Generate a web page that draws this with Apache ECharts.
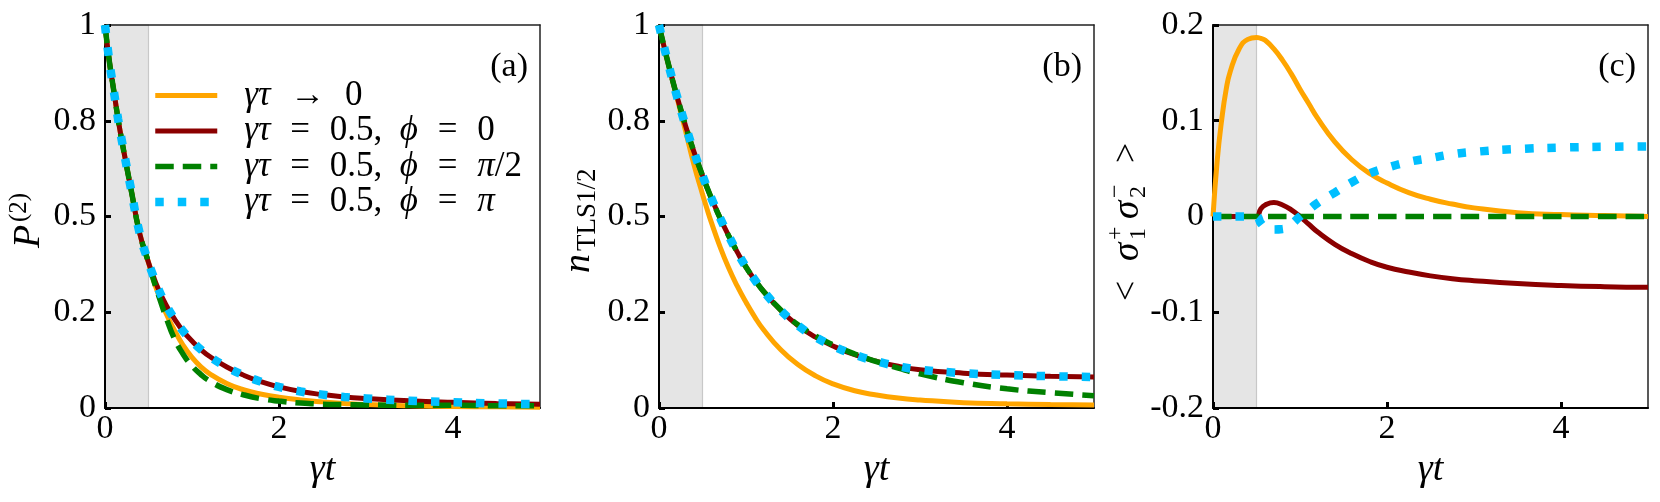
<!DOCTYPE html>
<html>
<head>
<meta charset="utf-8">
<script src="https://cdn.jsdelivr.net/npm/echarts@6/dist/echarts.min.js"></script>
<style>
html,body{margin:0;padding:0;background:#fff;}
#chart{width:1660px;height:502px;}
</style>
</head>
<body>
<div id="chart"></div>
<script>
// ---------------- data ----------------
const seriesNames = ['γτ → 0', 'γτ = 0.5,  ϕ = 0', 'γτ = 0.5,  ϕ = π/2', 'γτ = 0.5,  ϕ = π'];
const panelLabels = ['(a)', '(b)', '(c)'];
const xTicks = [0, 2, 4];
const xTickLabels = ['0', '2', '4'];
const yTicksAB = [0, 0.25, 0.5, 0.75, 1];
const yTickLabelsAB = ['0', '0.2', '0.5', '0.8', '1'];
const yTicksC = [-0.2, -0.1, 0, 0.1, 0.2];
const yTickLabelsC = ['-0.2', '-0.1', '0', '0.1', '0.2'];
const shadeRange = [0, 0.5];

const tGrid = [0, 0.05, 0.1, 0.15, 0.2, 0.3, 0.4, 0.5, 0.55, 0.6, 0.7, 0.8, 0.9, 1.0, 1.1, 1.2, 1.4, 1.6, 1.8, 2.0, 2.25, 2.5, 2.75, 3.0, 3.5, 4.0, 4.5, 5.0];

// panel (a) P^(2)
const aOrange = [1, 0.905, 0.83, 0.755, 0.69, 0.57, 0.455, 0.38, 0.34, 0.305, 0.248, 0.202, 0.163, 0.132, 0.108, 0.09, 0.064, 0.047, 0.036, 0.028, 0.021, 0.016, 0.012, 0.009, 0.006, 0.004, 0.003, 0.002];
const aRed    = [1, 0.905, 0.83, 0.755, 0.69, 0.57, 0.455, 0.38, 0.348, 0.318, 0.27, 0.232, 0.2, 0.175, 0.153, 0.135, 0.107, 0.085, 0.068, 0.055, 0.043, 0.035, 0.029, 0.025, 0.019, 0.015, 0.012, 0.01];
const aGreen  = [1, 0.905, 0.83, 0.755, 0.69, 0.57, 0.455, 0.38, 0.34, 0.305, 0.238, 0.18, 0.14, 0.11, 0.088, 0.071, 0.048, 0.034, 0.024, 0.018, 0.013, 0.01, 0.009, 0.008, 0.007, 0.007, 0.006, 0.006];
const aBlue   = [1, 0.905, 0.83, 0.755, 0.69, 0.57, 0.455, 0.38, 0.348, 0.318, 0.27, 0.232, 0.2, 0.175, 0.153, 0.135, 0.107, 0.085, 0.068, 0.055, 0.043, 0.035, 0.029, 0.025, 0.019, 0.015, 0.012, 0.01];

// panel (b) n_TLS1/2
const bOrange = [1, 0.951, 0.905, 0.86, 0.816, 0.728, 0.637, 0.558, 0.521, 0.486, 0.422, 0.366, 0.318, 0.276, 0.238, 0.205, 0.152, 0.113, 0.084, 0.063, 0.045, 0.034, 0.026, 0.021, 0.014, 0.011, 0.009, 0.008];
const bRed    = [1, 0.951, 0.905, 0.861, 0.819, 0.741, 0.67, 0.607, 0.577, 0.549, 0.497, 0.45, 0.407, 0.368, 0.335, 0.305, 0.255, 0.215, 0.185, 0.162, 0.139, 0.122, 0.109, 0.1, 0.091, 0.086, 0.083, 0.081];
const bGreen  = [1, 0.951, 0.905, 0.861, 0.819, 0.741, 0.67, 0.607, 0.577, 0.549, 0.497, 0.45, 0.407, 0.368, 0.335, 0.305, 0.256, 0.217, 0.188, 0.165, 0.141, 0.121, 0.104, 0.089, 0.066, 0.05, 0.04, 0.032];
const bBlue   = [1, 0.951, 0.905, 0.861, 0.819, 0.741, 0.67, 0.607, 0.577, 0.549, 0.497, 0.45, 0.407, 0.368, 0.335, 0.305, 0.255, 0.215, 0.185, 0.162, 0.139, 0.122, 0.109, 0.1, 0.091, 0.086, 0.083, 0.081];

// panel (c) <σ1+ σ2->
const cOrange = [0, 0.06, 0.101, 0.132, 0.152, 0.175, 0.185, 0.187, 0.186, 0.184, 0.175, 0.163, 0.149, 0.133, 0.118, 0.103, 0.078, 0.059, 0.045, 0.035, 0.025, 0.018, 0.013, 0.009, 0.004, 0.002, 0.001, 0];
const cRed    = [0, 0, 0, 0, 0, 0, 0, 0, 0.008, 0.012, 0.0145, 0.012, 0.007, 0, -0.008, -0.016, -0.029, -0.039, -0.047, -0.053, -0.058, -0.062, -0.065, -0.067, -0.07, -0.072, -0.0733, -0.074];
const cGreen  = [0, 0, 0, 0, 0, 0, 0, 0, 0, 0, 0, 0, 0, 0, 0, 0, 0, 0, 0, 0, 0, 0, 0, 0, 0, 0, 0, 0];
const cBlue   = [0, 0, 0, 0, 0, 0, 0, 0, -0.007, -0.011, -0.0135, -0.013, -0.008, 0, 0.007, 0.014, 0.025, 0.036, 0.045, 0.051, 0.057, 0.061, 0.065, 0.0675, 0.0705, 0.072, 0.0728, 0.0732];

// ---------------- styling ----------------
const FONT = 'Liberation Serif';
const colors = ['#FFA500', '#8B0000', '#008000', '#00BFFF'];
const lineStyles = [
  { color: colors[0], width: 5, type: 'solid' },
  { color: colors[1], width: 5, type: 'solid' },
  { color: colors[2], width: 5.5, type: [18.5, 9], cap: 'butt' },
  { color: colors[3], width: 8.5, type: [8.5, 14], cap: 'butt' }
];
const grids = [
  { left: 105, top: 25, width: 435, height: 383 },
  { left: 659, top: 25, width: 435, height: 383 },
  { left: 1213, top: 25, width: 435, height: 383 }
];

function tickFmt(ticks, labels) {
  return function (v) {
    for (let i = 0; i < ticks.length; i++) if (Math.abs(ticks[i] - v) < 1e-9) return labels[i];
    return '';
  };
}

const xAxes = [], yAxes = [], series = [];
const panelData = [
  [aOrange, aRed, aGreen, aBlue],
  [bOrange, bRed, bGreen, bBlue],
  [cOrange, cRed, cGreen, cBlue]
];
for (let g = 0; g < 3; g++) {
  xAxes.push({
    type: 'value', gridIndex: g, min: 0, max: 5, interval: 2, z: 3,
    name: 'γt', nameLocation: 'middle', nameGap: 40,
    nameTextStyle: { fontFamily: FONT, fontSize: 38, fontStyle: 'italic', color: '#000' },
    axisLine: { show: true, onZero: false, lineStyle: { color: '#000', width: 2 } },
    axisTick: { show: true, inside: true, length: 6, lineStyle: { color: '#000', width: 3 } },
    axisLabel: { show: true, margin: 4, showMaxLabel: false, fontFamily: FONT, fontSize: 34, color: '#000', formatter: tickFmt(xTicks, xTickLabels) },
    splitLine: { show: false }
  });
  xAxes.push({
    type: 'value', gridIndex: g, min: 0, max: 5, position: 'top', z: 3,
    axisLine: { show: true, onZero: false, lineStyle: { color: '#222', width: 1.5 } },
    axisTick: { show: false }, axisLabel: { show: false }, splitLine: { show: false }
  });
  const isC = g === 2;
  yAxes.push({
    type: 'value', gridIndex: g, z: 3,
    min: isC ? -0.2 : 0, max: isC ? 0.2 : 1, interval: isC ? 0.1 : 0.25,
    axisLine: { show: true, onZero: false, lineStyle: { color: '#000', width: 2 } },
    axisTick: { show: true, inside: true, length: 6, lineStyle: { color: '#000', width: 3 } },
    axisLabel: { show: true, margin: 9, fontFamily: FONT, fontSize: 34, color: '#000',
      formatter: isC ? tickFmt(yTicksC, yTickLabelsC) : tickFmt(yTicksAB, yTickLabelsAB) },
    splitLine: { show: false }
  });
  yAxes.push({
    type: 'value', gridIndex: g, position: 'right', z: 3,
    min: isC ? -0.2 : 0, max: isC ? 0.2 : 1,
    axisLine: { show: true, onZero: false, lineStyle: { color: '#222', width: 1.5 } },
    axisTick: { show: false }, axisLabel: { show: false }, splitLine: { show: false }
  });
  for (let s = 0; s < 4; s++) {
    const arr = panelData[g][s];
    const ser = {
      type: 'line', name: seriesNames[s],
      xAxisIndex: g * 2, yAxisIndex: g * 2,
      data: tGrid.map((t, i) => [t, arr[i]]),
      symbol: 'none', showSymbol: false, smooth: 0.5,
      lineStyle: lineStyles[s], itemStyle: { color: colors[s] },
      emphasis: { disabled: true }, silent: true
    };
    if (s === 0) {
      ser.markArea = {
        silent: true,
        itemStyle: { color: '#e5e5e5', borderColor: '#c8c8c8', borderWidth: 1.2 },
        label: { show: false },
        data: [[{ xAxis: shadeRange[0] }, { xAxis: shadeRange[1] }]]
      };
    }
    series.push(ser);
  }
}

function yName(x, y, parts) {
  return {
    type: 'group', x: x, y: y, rotation: Math.PI / 2, silent: true,
    children: parts.map(p => ({
      type: 'text', x: p[1], y: p[2],
      style: { text: p[0], fontFamily: FONT, fontSize: p[3], fontStyle: p[4] ? 'italic' : 'normal', fill: '#000', align: 'left', verticalAlign: 'middle' }
    }))
  };
}

const graphics = [
  yName(29, 248, [['P', 0, 0, 38, true], ['(2)', 26, -10, 25, false]]),
  yName(579, 273, [['n', 0, 0, 38, true], ['TLS1/2', 22, 9, 27, false]]),
  yName(1128, 305, [['<', 4, 0, 36, false], ['σ', 44, 0, 37, true], ['+', 65, -12, 24, false], ['1', 65, 11, 24, false],
                    ['σ', 86, 0, 37, true], ['−', 107, -12, 24, false], ['2', 107, 11, 24, false], ['>', 142, 0, 36, false]])
];
for (let g = 0; g < 3; g++) {
  graphics.push({
    type: 'text', x: grids[g].left + grids[g].width - 12, y: 67, silent: true,
    style: { text: panelLabels[g], fontFamily: FONT, fontSize: 34, fill: '#000', align: 'right', verticalAlign: 'middle' }
  });
}

const option = {
  animation: false,
  backgroundColor: '#fff',
  textStyle: { fontFamily: FONT },
  grid: grids.map(g => Object.assign({ show: false, containLabel: false }, g)),
  xAxis: xAxes,
  yAxis: yAxes,
  legend: {
    data: seriesNames.map((n, i) => ({ name: n, lineStyle: { width: lineStyles[i].width } })),
    left: 151, top: 78, orient: 'vertical', padding: 0,
    itemWidth: 62, itemHeight: 12, itemGap: 0.5, selectedMode: false,
    itemStyle: { opacity: 0 },
    textStyle: {
      fontFamily: FONT, fontSize: 35, color: '#000', lineHeight: 35,
      rich: {
        s: { width: 22, fontSize: 35, lineHeight: 35, fontFamily: FONT },
        i: { fontFamily: FONT, fontSize: 35, fontStyle: 'italic', lineHeight: 35, color: '#000' },
        e: { fontFamily: FONT, fontSize: 35, lineHeight: 35, padding: [0, 11, 0, 11], color: '#000' }
      }
    },
    formatter: function (name) {
      return '{s| }' + name.replace(/[γτϕπ]+/g, m => '{i|' + m + '}').replace(/[=→]/g, m => '{e|' + m + '}');
    }
  },
  graphic: graphics,
  series: series
};

const chart = echarts.init(document.getElementById('chart'), null, { renderer: 'canvas' });
chart.setOption(option);
</script>
</body>
</html>
